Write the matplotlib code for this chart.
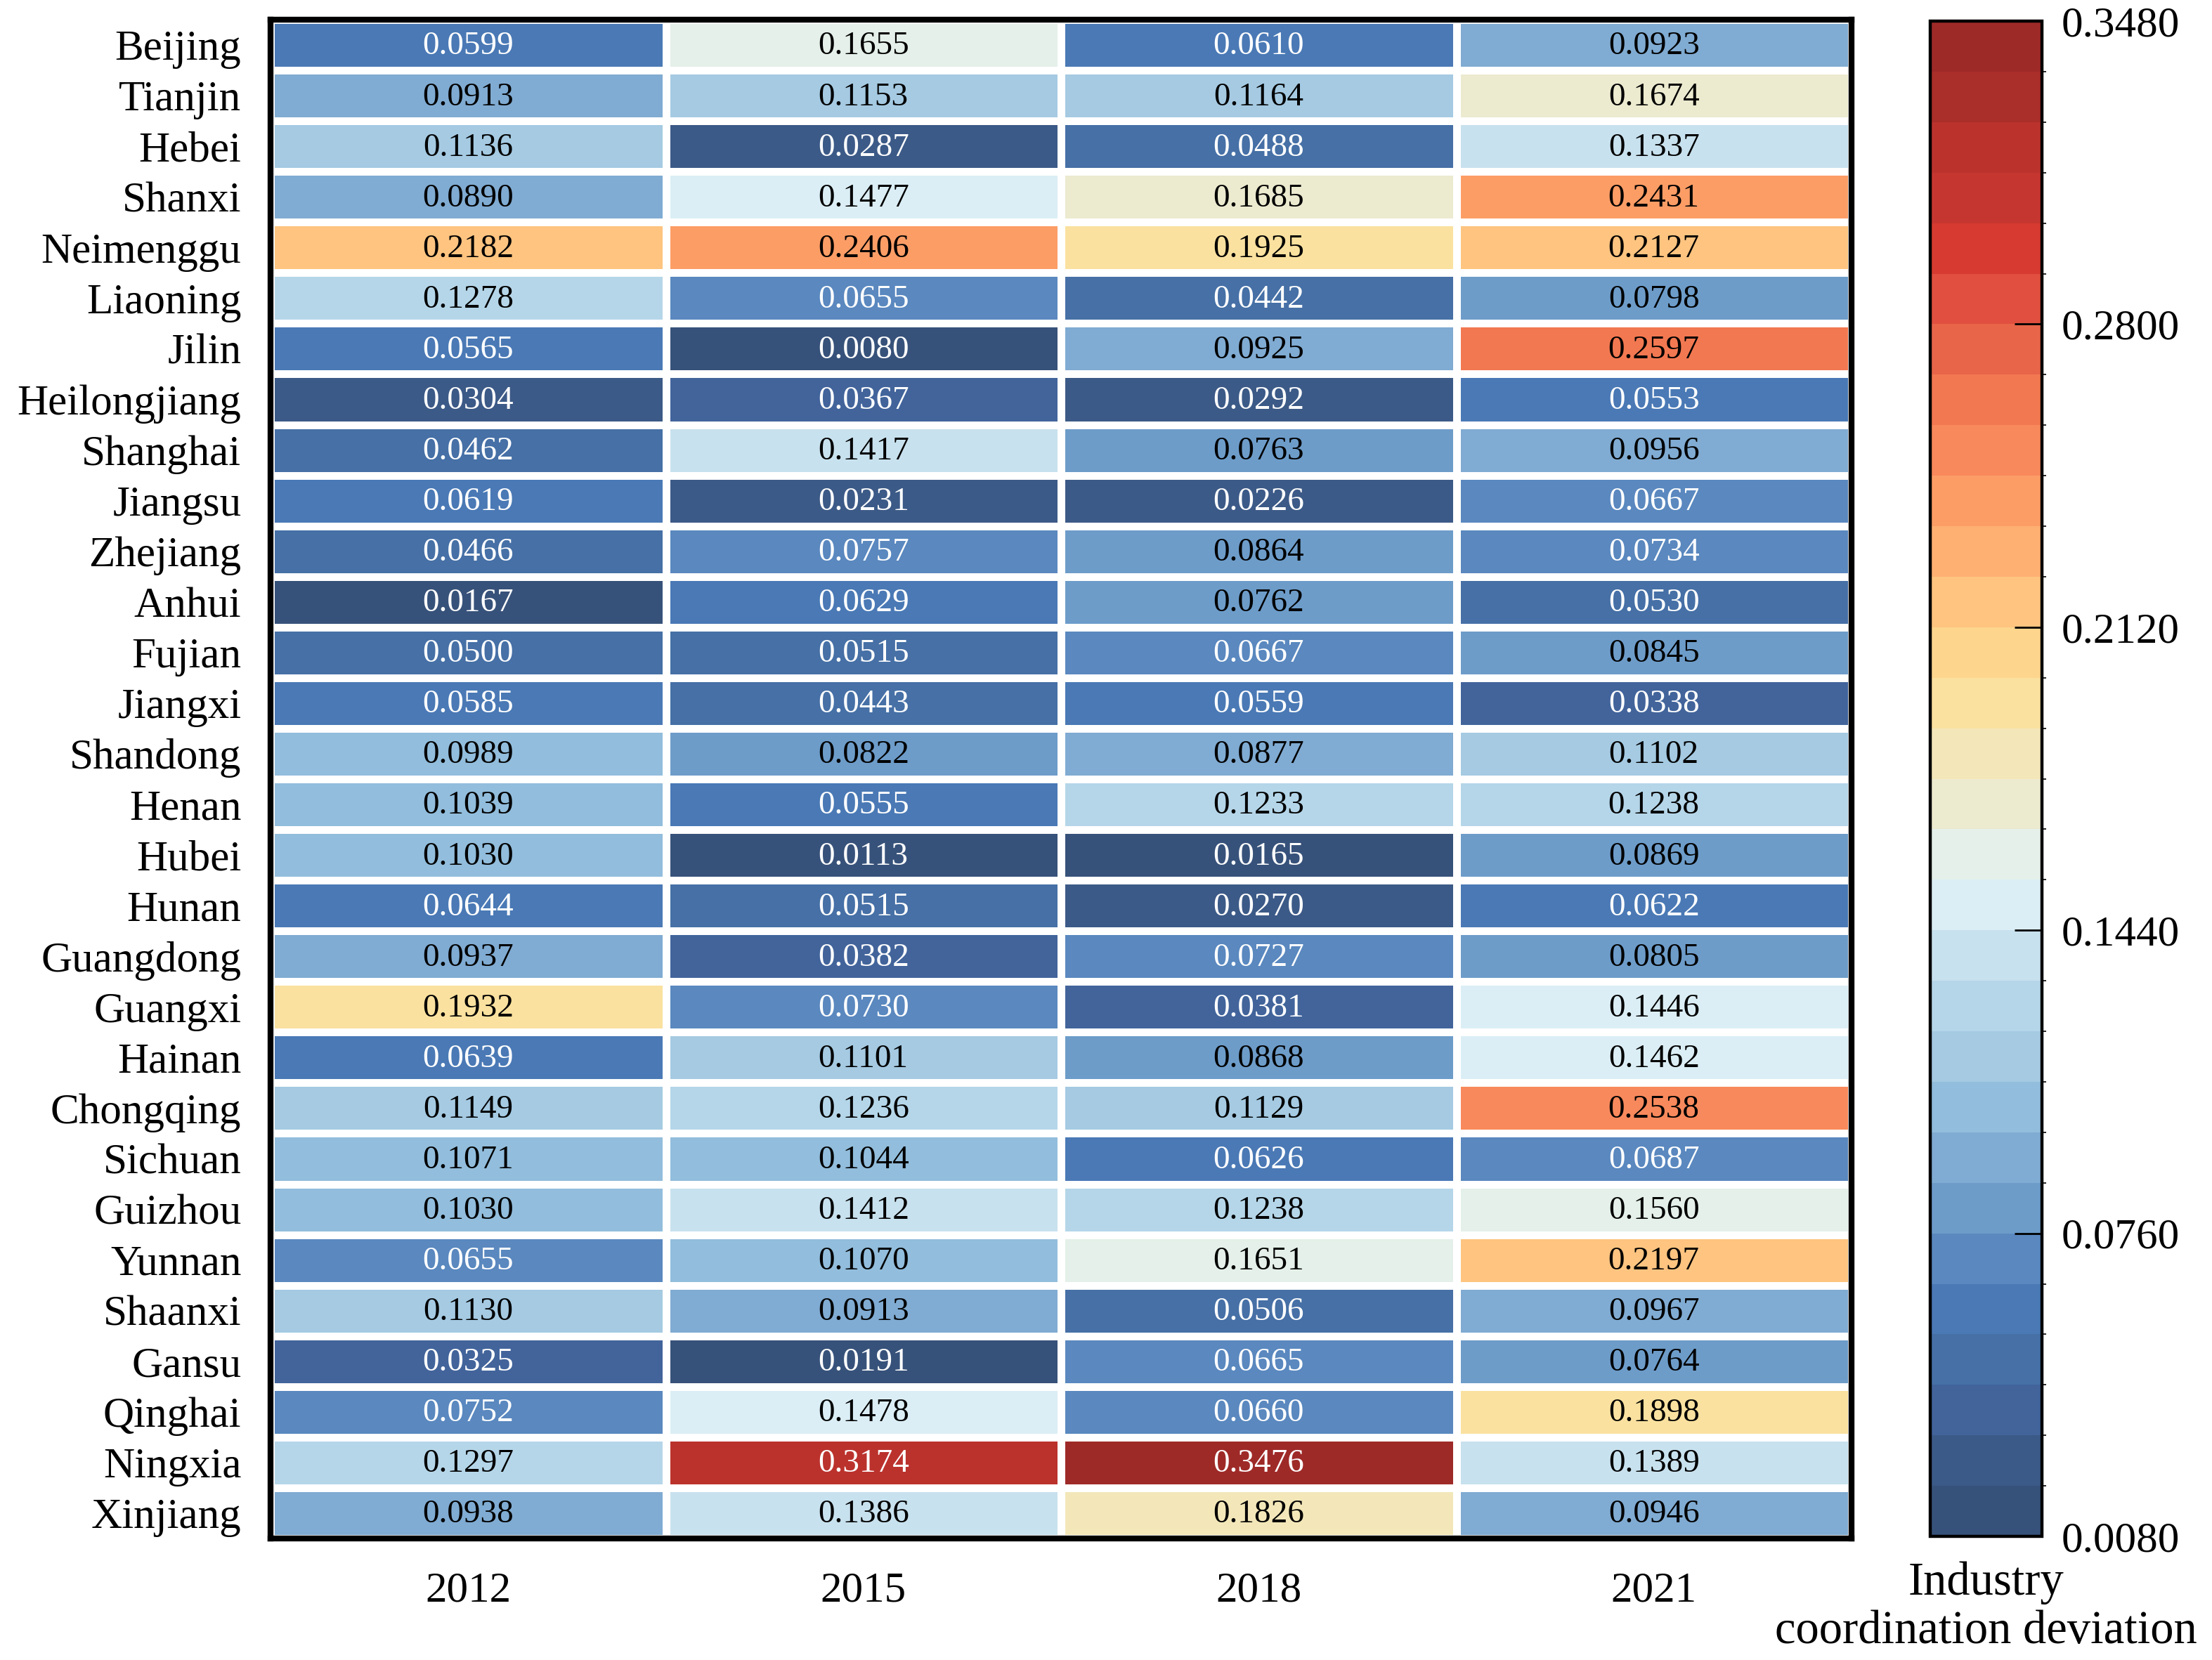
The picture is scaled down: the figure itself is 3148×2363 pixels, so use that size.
import numpy as np
import matplotlib
matplotlib.use("Agg")
import matplotlib.pyplot as plt
from matplotlib.colors import ListedColormap, BoundaryNorm

plt.rcParams['font.family'] = ['Liberation Serif', 'DejaVu Serif']

provinces = ["Beijing", "Tianjin", "Hebei", "Shanxi", "Neimenggu", "Liaoning", "Jilin",
             "Heilongjiang", "Shanghai", "Jiangsu", "Zhejiang", "Anhui", "Fujian", "Jiangxi",
             "Shandong", "Henan", "Hubei", "Hunan", "Guangdong", "Guangxi", "Hainan",
             "Chongqing", "Sichuan", "Guizhou", "Yunnan", "Shaanxi", "Gansu", "Qinghai",
             "Ningxia", "Xinjiang"]
years = ["2012", "2015", "2018", "2021"]

v2012 = [0.0599, 0.0913, 0.1136, 0.0890, 0.2182, 0.1278, 0.0565, 0.0304, 0.0462, 0.0619,
         0.0466, 0.0167, 0.0500, 0.0585, 0.0989, 0.1039, 0.1030, 0.0644, 0.0937, 0.1932,
         0.0639, 0.1149, 0.1071, 0.1030, 0.0655, 0.1130, 0.0325, 0.0752, 0.1297, 0.0938]
v2015 = [0.1655, 0.1153, 0.0287, 0.1477, 0.2406, 0.0655, 0.0080, 0.0367, 0.1417, 0.0231,
         0.0757, 0.0629, 0.0515, 0.0443, 0.0822, 0.0555, 0.0113, 0.0515, 0.0382, 0.0730,
         0.1101, 0.1236, 0.1044, 0.1412, 0.1070, 0.0913, 0.0191, 0.1478, 0.3174, 0.1386]
v2018 = [0.0610, 0.1164, 0.0488, 0.1685, 0.1925, 0.0442, 0.0925, 0.0292, 0.0763, 0.0226,
         0.0864, 0.0762, 0.0667, 0.0559, 0.0877, 0.1233, 0.0165, 0.0270, 0.0727, 0.0381,
         0.0868, 0.1129, 0.0626, 0.1238, 0.1651, 0.0506, 0.0665, 0.0660, 0.3476, 0.1826]
v2021 = [0.0923, 0.1674, 0.1337, 0.2431, 0.2127, 0.0798, 0.2597, 0.0553, 0.0956, 0.0667,
         0.0734, 0.0530, 0.0845, 0.0338, 0.1102, 0.1238, 0.0869, 0.0622, 0.0805, 0.1446,
         0.1462, 0.2538, 0.0687, 0.1560, 0.2197, 0.0967, 0.0764, 0.1898, 0.1389, 0.0946]

cbar_ticks = [0.0080, 0.0760, 0.1440, 0.2120, 0.2800, 0.3480]
vmin, vmax, nbands = 0.008, 0.348, 30

band_colors = ["#37527a", "#3c5a87", "#42649b", "#4670a6", "#4a79b5", "#5a88bf",
               "#6d9cc9", "#80abd2", "#92bddc", "#a5cae2", "#b5d6e9", "#c8e1ee",
               "#dbeef5", "#e4f0e9", "#eceacf", "#f3e7b9", "#fae19f", "#fdd58d",
               "#fec480", "#feb073", "#fc9d66", "#f8895c", "#f27851", "#e8654a",
               "#e04f3f", "#d63a30", "#c63630", "#bb322d", "#aa2e2a", "#9e2a28"]
cmap = ListedColormap(band_colors)
bounds = np.linspace(vmin, vmax, nbands + 1)
norm = BoundaryNorm(bounds, cmap.N)

data = np.array([v2012, v2015, v2018, v2021]).T  # rows: provinces, cols: years
nrows, ncols = data.shape

W, H, DPI = 3148, 2363, 200
fig = plt.figure(figsize=(W / DPI, H / DPI), dpi=DPI)

ax = fig.add_axes([385 / W, 1 - 2190 / H, (2635 - 385) / W, (2190 - 28) / H])
ax.pcolormesh(np.arange(ncols + 1), np.arange(nrows + 1), data, cmap=cmap, norm=norm,
              edgecolors='white', linewidth=3.3)
ax.set_xlim(0, ncols)
ax.set_ylim(nrows, 0)

for i in range(nrows):
    for j in range(ncols):
        v = data[i, j]
        col = 'white' if (v < 0.076 or v > 0.28) else 'black'
        ax.text(j + 0.5, i + 0.53, f"{v:.4f}", ha='center', va='center',
                fontsize=17, color=col)

ax.set_xticks(np.arange(ncols) + 0.5)
ax.set_xticklabels(years, fontsize=22)
ax.set_yticks(np.arange(nrows) + 0.5)
ax.set_yticklabels(provinces, fontsize=22)
ax.tick_params(axis='both', length=0)
ax.tick_params(axis='x', pad=17)
ax.tick_params(axis='y', pad=15)
for s in ax.spines.values():
    s.set_linewidth(3.0)
    s.set_color('black')

cax = fig.add_axes([2747 / W, 1 - 2187 / H, (2906 - 2747) / W, (2187 - 30) / H])
sm = matplotlib.cm.ScalarMappable(norm=norm, cmap=cmap)
cb = fig.colorbar(sm, cax=cax, boundaries=bounds, ticks=cbar_ticks)
cb.ax.set_yticklabels([f"{t:.4f}" for t in cbar_ticks])
cb.ax.tick_params(direction='in', length=14, width=1.0, labelsize=22, pad=10, color='black')
cb.outline.set_linewidth(1.6)
cb.outline.set_edgecolor('black')

fig.text((2747 + 2906) / 2 / W, 1 - 2222 / H, "Industry\ncoordination deviation",
         ha='center', va='top', multialignment='center', fontsize=24, linespacing=1.18)

fig.savefig("out.png", dpi=DPI)
